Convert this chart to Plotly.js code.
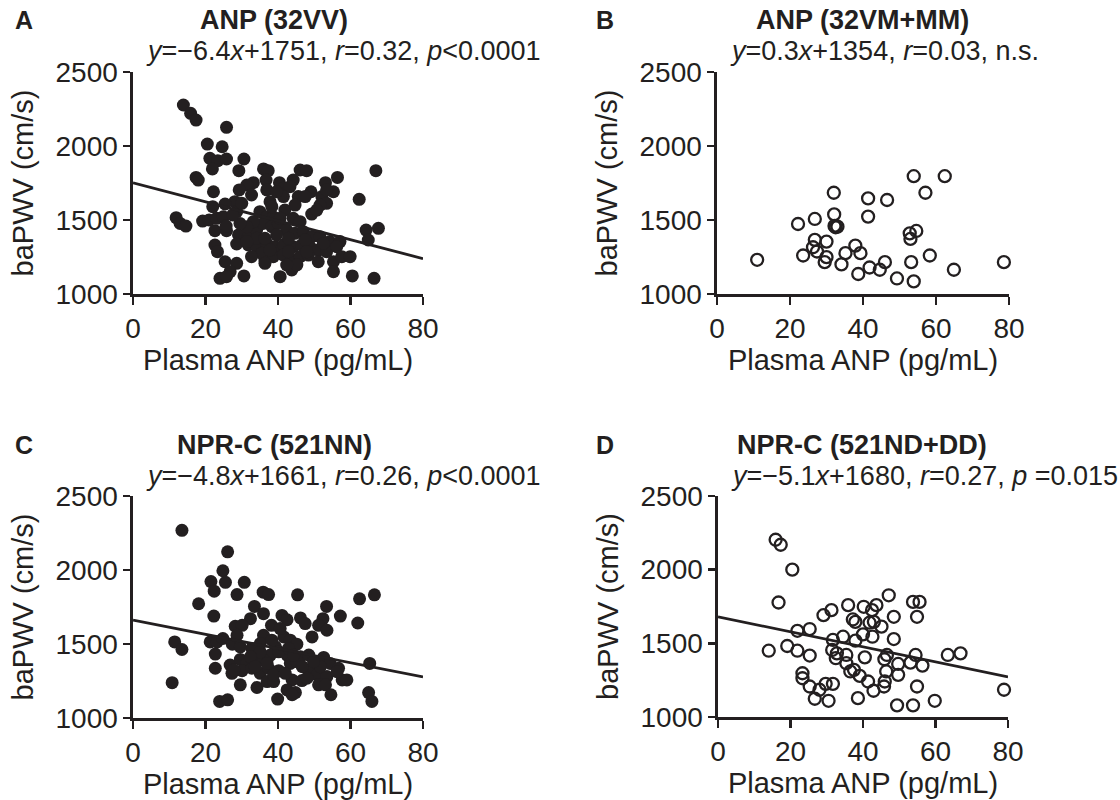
<!DOCTYPE html>
<html>
<head>
<meta charset="utf-8">
<script src="https://cdn.plot.ly/plotly-3.0.1.min.js"></script>
<style>html,body{margin:0;padding:0;background:#fff}#chart{width:1120px;height:800px}</style>
</head>
<body>
<div id="chart"></div>
<script>
// Panel A: ANP (32VV)
const ax_A = [13.9,15.9,17.4,25.8,20.5,24.6,21.2,23.4,25.8,30.6,21.9,29.2,17.4,18.0,36.0,37.3,46.1,47.9,67.0,56.4,53.1,40.4,44.2,36.7,33.2,31.4,29.3,22.2,36.9,41.5,43.3,49.1,55.3,62.4,32.7,45.6,47.5,52.1,53.4,51.6,37.8,41.5,28.1,25.4,22.0,28.6,30.0,11.9,13.0,14.6,19.2,21.0,23.1,24.9,22.6,25.8,35.0,36.9,38.7,41.9,44.2,46.1,49.3,29.1,31.8,34.1,35.9,38.3,40.1,42.4,44.7,47.0,49.3,51.6,54.3,57.1,64.3,67.7,64.9,22.6,23.3,28.6,31.8,34.1,36.9,39.2,41.5,44.2,46.5,48.8,51.1,53.4,56.2,36.4,38.7,41.5,43.8,46.1,48.4,51.1,55.3,57.6,59.9,25.4,28.6,26.8,24.0,25.8,30.6,40.6,43.8,45.2,55.3,60.5,66.5,40.6,39.6,34.1,42.9,47.5,33.2,36.4,31.4,35.5,50.7,38.3,31.4,37.8,42.9,47.9,52.5,44.7,39.6,53.4,36.4,42.4,29.5,27.5,25.7,32.7];
const ay_A = [2277,2221,2175,2126,2013,1995,1917,1901,1912,1912,1845,1833,1788,1770,1845,1833,1838,1833,1833,1788,1752,1752,1770,1770,1752,1736,1703,1691,1703,1714,1725,1691,1691,1640,1669,1658,1658,1658,1613,1601,1624,1658,1624,1608,1590,1556,1613,1516,1477,1459,1493,1500,1511,1522,1428,1428,1556,1522,1522,1567,1511,1489,1540,1399,1387,1432,1477,1455,1477,1432,1410,1421,1387,1387,1354,1354,1432,1444,1365,1331,1286,1338,1331,1320,1342,1320,1331,1320,1331,1320,1297,1286,1320,1230,1252,1263,1230,1252,1263,1218,1218,1252,1252,1218,1207,1151,1106,1117,1122,1117,1162,1196,1151,1122,1106,1511,1399,1376,1376,1365,1489,1376,1455,1275,1567,1590,1354,1297,1286,1286,1342,1601,1691,1703,1207,1196,1477,1534,1459,1252];
const fitX_A = [0, 80];
const fitY_A = [1751, 1239];

// Panel B: ANP (32VM+MM)
const bx_B = [11.0,23.6,22.2,26.8,26.8,26.3,27.4,30.0,30.0,29.5,32.0,32.1,32.2,33.0,34.1,35.2,37.9,39.3,38.7,41.4,41.4,41.8,44.6,46.0,46.6,49.3,52.8,53.0,54.6,53.2,53.9,53.9,57.1,58.3,62.4,64.9,78.6,32.5];
const by_B = [1231,1260,1473,1507,1366,1316,1287,1354,1249,1215,1684,1538,1460,1455,1200,1276,1327,1276,1135,1646,1523,1179,1164,1215,1635,1105,1410,1372,1426,1215,1796,1085,1684,1260,1796,1164,1215,1451];

// Panel C: NPR-C (521NN)
const cx_C = [13.5,26.1,24.8,21.5,22.4,25.5,30.7,28.7,18.1,22.3,35.9,37.4,45.4,62.5,66.6,53.4,57.2,62.0,33.5,36.0,32.4,41.1,42.5,46.2,47.5,52.4,51.2,53.5,28.2,30.1,28.7,38.2,11.5,13.5,21.3,23.2,24.8,27.4,22.7,22.7,10.8,36.0,35.1,41.6,43.4,45.2,49.4,32.8,39.3,37.9,42.5,46.2,48.5,52.6,54.4,56.7,65.3,26.8,29.6,31.4,34.2,36.0,27.3,30.1,32.8,35.1,37.4,40.2,43.4,45.2,48.5,50.8,53.5,57.7,59.0,29.6,34.2,37.0,38.8,43.9,46.6,51.2,53.1,42.5,44.8,23.9,26.1,39.9,43.9,54.6,65.0,65.9,37.0,40.2,42.9,46.7,51.7,29.6,40.6,35.1,32.4,38.8,48.0,56.3,27.8,49.8,44.3,38.3,33.7,42.0];
const cy_C = [2268,2123,1995,1922,1857,1917,1917,1834,1772,1689,1850,1834,1832,1805,1832,1754,1689,1642,1754,1705,1671,1693,1664,1676,1638,1671,1626,1593,1620,1626,1559,1626,1514,1463,1514,1514,1537,1499,1432,1336,1239,1559,1503,1548,1526,1499,1548,1470,1481,1425,1425,1414,1425,1409,1369,1336,1369,1358,1396,1369,1391,1391,1302,1320,1336,1302,1336,1320,1369,1380,1324,1291,1280,1257,1257,1224,1206,1246,1246,1257,1253,1224,1224,1190,1172,1112,1123,1128,1157,1157,1172,1112,1369,1447,1470,1347,1347,1481,1604,1447,1414,1291,1269,1313,1324,1380,1425,1526,1347,1302];
const fitX_C = [0, 80];
const fitY_C = [1661, 1277];

// Panel D: NPR-C (521ND+DD)
const dx_D = [15.9,17.3,20.5,16.7,14.0,19.1,21.9,21.9,25.3,25.3,23.3,23.3,25.3,26.7,28.0,29.7,31.7,30.5,29.1,31.3,31.7,31.5,32.8,32.5,34.5,35.4,35.4,36.5,37.5,35.9,37.2,37.9,37.9,38.6,39.1,40.5,40.2,40.0,41.4,41.8,42.5,43.7,42.6,45.1,42.9,45.8,46.0,46.4,45.9,46.6,47.1,48.5,48.5,49.7,49.7,49.4,53.1,54.5,56.4,53.8,55.6,54.9,54.9,53.8,59.8,63.4,66.9,78.9,43.0];
const dy_D = [2203,2169,2000,1777,1450,1482,1585,1450,1597,1417,1297,1263,1207,1124,1185,1225,1225,1110,1691,1725,1523,1455,1432,1399,1545,1421,1365,1309,1320,1759,1662,1646,1518,1128,1279,1405,1748,1561,1241,1640,1725,1759,1545,1613,1178,1207,1241,1309,1392,1421,1826,1680,1529,1360,1286,1079,1369,1421,1349,1781,1781,1680,1207,1079,1110,1421,1432,1185,1646];
const fitX_D = [0, 80];
const fitY_D = [1680, 1272];

const panelLetters = ["A", "B", "C", "D"];
const panelTitles = ["ANP (32VV)", "ANP (32VM+MM)", "NPR-C (521NN)", "NPR-C (521ND+DD)"];
const panelStats = [
  "<i>y</i>=−6.4<i>x</i>+1751, <i>r</i>=0.32, <i>p</i>&lt;0.0001",
  "<i>y</i>=0.3<i>x</i>+1354, <i>r</i>=0.03, n.s.",
  "<i>y</i>=−4.8<i>x</i>+1661, <i>r</i>=0.26, <i>p</i>&lt;0.0001",
  "<i>y</i>=−5.1<i>x</i>+1680, <i>r</i>=0.27, <i>p</i> =0.015"
];
const xTitle = "Plasma ANP (pg/mL)";
const yTitle = "baPWV (cm/s)";
const xTicks = [0, 20, 40, 60, 80];
const yTicks = [1000, 1500, 2000, 2500];

const INK = "#231f20";
const FONT = "Liberation Sans, Arial, Helvetica, sans-serif";
const W = 1120, H = 800;

function filled(x, y, xa, ya) {
  return {x, y, xaxis: xa, yaxis: ya, type: "scatter", mode: "markers", cliponaxis: false,
    marker: {size: 13, color: INK, line: {width: 0}}, showlegend: false, hoverinfo: "x+y"};
}
function open(x, y, xa, ya) {
  return {x, y, xaxis: xa, yaxis: ya, type: "scatter", mode: "markers", cliponaxis: false,
    marker: {size: 12, color: INK, symbol: "circle-open", line: {width: 2.3, color: INK}}, showlegend: false, hoverinfo: "x+y"};
}
function fit(x, y, xa, ya) {
  return {x, y, xaxis: xa, yaxis: ya, type: "scatter", mode: "lines", cliponaxis: false,
    line: {color: INK, width: 2.8}, showlegend: false, hoverinfo: "skip"};
}

const traces = [
  filled(ax_A, ay_A, "x", "y"), fit(fitX_A, fitY_A, "x", "y"),
  open(bx_B, by_B, "x2", "y2"),
  filled(cx_C, cy_C, "x3", "y3"), fit(fitX_C, fitY_C, "x3", "y3"),
  open(dx_D, dy_D, "x4", "y4"), fit(fitX_D, fitY_D, "x4", "y4")
];

// pixel boxes [left, right, top, bottom]
const boxes = [[133, 423, 72, 294], [717, 1009, 72, 294], [133, 423, 496, 718], [718, 1008, 496, 717]];

function xAxis(b, anchor) {
  return {domain: [b[0] / W, b[1] / W], anchor, range: [0, 80], tickvals: xTicks, ticktext: xTicks.map(String),
    showline: true, linecolor: INK, linewidth: 2.6, ticks: "outside", ticklen: 8, tickwidth: 2.6, tickcolor: INK,
    showgrid: false, zeroline: false, tickfont: {family: FONT, size: 28, color: INK},
    title: {text: xTitle, font: {family: FONT, size: 29, color: INK}, standoff: 2}};
}
function yAxis(b, anchor) {
  return {domain: [1 - b[3] / H, 1 - b[2] / H], anchor, range: [1000, 2500], tickvals: yTicks, ticktext: yTicks.map(String),
    showline: true, linecolor: INK, linewidth: 2.6, ticks: "outside", ticklen: 7, tickwidth: 2.6, tickcolor: INK,
    showgrid: false, zeroline: false, tickfont: {family: FONT, size: 28, color: INK},
    title: {text: yTitle, font: {family: FONT, size: 29, color: INK}, standoff: 14}};
}

const letterPos = [[24, 20], [605, 20], [24, 445], [605, 445]];
const titlePos = [[274, 20], [862, 20], [274, 445], [862, 445]];
const statPos = [[145, 51], [729, 51], [145, 476], [730, 476]];

const annotations = [];
for (let i = 0; i < 4; i++) {
  annotations.push({xref: "paper", yref: "paper", x: letterPos[i][0] / W, y: 1 - letterPos[i][1] / H,
    text: "<b>" + panelLetters[i] + "</b>", showarrow: false, xanchor: "center", yanchor: "middle", borderpad: 0,
    font: {family: FONT, size: 25, color: INK}});
  annotations.push({xref: "paper", yref: "paper", x: titlePos[i][0] / W, y: 1 - titlePos[i][1] / H,
    text: "<b>" + panelTitles[i] + "</b>", showarrow: false, xanchor: "center", yanchor: "middle", borderpad: 0,
    font: {family: FONT, size: 27, color: INK}});
  annotations.push({xref: "paper", yref: "paper", x: statPos[i][0] / W, y: 1 - statPos[i][1] / H,
    text: panelStats[i], showarrow: false, xanchor: "left", yanchor: "middle", borderpad: 0,
    font: {family: FONT, size: 27, color: INK}});
}

const layout = {
  width: W, height: H, margin: {l: 0, r: 0, t: 0, b: 0}, paper_bgcolor: "#fff", plot_bgcolor: "#fff",
  font: {family: FONT, color: INK},
  xaxis: xAxis(boxes[0], "y"), yaxis: yAxis(boxes[0], "x"),
  xaxis2: xAxis(boxes[1], "y2"), yaxis2: yAxis(boxes[1], "x2"),
  xaxis3: xAxis(boxes[2], "y3"), yaxis3: yAxis(boxes[2], "x3"),
  xaxis4: xAxis(boxes[3], "y4"), yaxis4: yAxis(boxes[3], "x4"),
  annotations
};

Plotly.newPlot("chart", traces, layout, {staticPlot: true, displayModeBar: false});
</script>
</body>
</html>
